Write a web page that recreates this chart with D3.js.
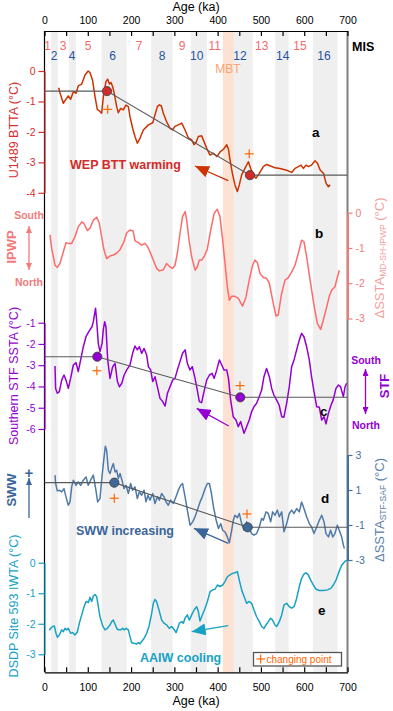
<!DOCTYPE html>
<html><head><meta charset="utf-8">
<script src="https://cdn.jsdelivr.net/npm/d3@7"></script>
<style>body{margin:0;background:#fff;} svg{display:block;font-family:"Liberation Sans",Arial,sans-serif;}</style>
</head><body><svg id="c" width="393" height="711"></svg>
<script>
// ---------- DATA ----------
const ageTicks = [0,100,200,300,400,500,600,700];
const glacialBands = [[15,31],[57,73],[132,190],[246,296],[338,375],[424,481],[533,564],[620,677]];
const mbtRange = [412,437];
const misOddLabels = ["1","3","5","7","9","11","13","15"];
const misOddAges = [7.4,42.7,100.5,218.3,317.6,393,501.7,590.2];
const misEvenLabels = ["2","4","6","8","10","12","14","16"];
const misEvenAges = [22,63.5,157.5,271.4,351.6,451.6,550.2,645.6];

const bttaSeries = [[32.7,-0.55],[36,-0.73],[43.5,-1.06],[51,-0.9],[55,-0.82],[60.4,-0.93],[66.6,-0.68],[72.8,-0.73],[78,-0.49],[86,-0.43],[93.6,-0.13],[101,0],[105,-0.05],[111,-0.3],[116.7,-0.84],[122,-1.26],[128,-1.33],[132,-1.39],[136,-0.84],[142,-0.35],[146,-0.27],[150,-0.43],[153.6,-0.38],[157.5,-0.52],[161,-0.73],[166.7,-1.17],[170.6,-1.37],[176,-1.23],[182,-1.28],[188,-1.12],[193.7,-1.17],[197.5,-1.5],[203.6,-1.88],[209,-2.15],[214.5,-2.37],[220.6,-2.21],[228.3,-1.94],[240,-1.77],[250,-1.7],[255.3,-1.44],[260.7,-1.17],[265.3,-1.11],[270,-1.15],[274.5,-1.39],[282,-1.66],[290,-1.88],[296,-1.93],[301.5,-1.82],[309,-1.77],[317,-1.71],[324.5,-1.93],[332.3,-2.2],[340,-2.26],[345.4,-2.42],[350,-2.35],[355.4,-2.15],[363,-2.13],[368.6,-2.32],[374.7,-2.54],[382.4,-2.76],[390,-2.7],[398,-2.81],[406,-2.65],[413.6,-2.57],[421,-2.42],[425,-2.57],[428.6,-2.92],[434,-3.36],[440,-3.74],[445.5,-3.96],[450,-3.74],[455.5,-3.41],[463,-3.2],[471,-2.98],[476.3,-3.2],[482.4,-3.41],[488.6,-3.52],[496.3,-3.36],[505.5,-3.14],[513,-3.07],[522.5,-3.12],[532.5,-3.18],[544,-3.2],[559.5,-3.26],[571,-3.33],[578.7,-3.2],[586.4,-3.14],[592.6,-3.09],[598,-3.2],[604,-3.09],[609.5,-3.14],[617,-3.09],[625,-2.95],[630.6,-3.03],[636.8,-3.25],[644.5,-3.36],[650.6,-3.69],[656,-3.8],[660,-3.74]];

const ipwpSeries = [[12.7,-0.63],[16.6,-1.01],[24.3,-1.49],[29.6,-1.55],[35.8,-1.44],[43.5,-1.11],[49.7,-0.85],[55,-0.87],[62.8,-0.87],[70.5,-0.68],[78,-0.4],[86,-0.26],[91,-0.3],[99,-0.51],[105,-0.44],[112.8,-0.21],[120.5,-0.13],[126.7,-0.3],[132,-0.68],[137.5,-1.06],[143.6,-1.3],[151,-1.23],[159,-1.2],[166.7,-1.15],[174,-1.06],[183.6,-0.82],[189.8,-0.57],[197.5,-0.49],[205,-0.52],[209,-0.8],[216.8,-0.85],[224.5,-0.92],[232,-0.87],[237.6,-0.95],[243.7,-1.11],[251.4,-1.34],[259,-1.58],[265.3,-1.65],[274.5,-1.62],[282,-1.44],[288.4,-1.52],[296,-1.58],[301.5,-1.49],[307,-1.15],[313,-0.59],[319,-0.11],[325,0.03],[328.5,-0.21],[334,-0.78],[340,-1.25],[348,-1.63],[353,-1.54],[357.7,-1.34],[363,-1.34],[368.5,-1.25],[376,-1.04],[384,-0.49],[392,-0.02],[399,0.1],[405.4,-0.11],[411.6,-0.78],[417,-1.44],[422.4,-2.1],[427,-2.48],[432,-2.37],[440,-2.37],[447.7,-2.43],[457.6,-2.65],[465.5,-2.39],[473,-1.91],[480.7,-1.49],[486,-1.34],[491.7,-1.41],[497.7,-1.72],[505.5,-1.84],[513,-1.86],[519.4,-2.0],[527,-2.48],[534.8,-2.93],[540,-2.9],[547.8,-2.29],[555.6,-1.91],[563.3,-1.84],[571,-1.68],[578.7,-1.49],[586.4,-1.15],[594,-0.78],[599.4,-0.82],[605.6,-1.25],[613,-1.86],[622.6,-2.62],[630.3,-3.14],[638,-3.31],[644,-3.05],[652,-2.67],[658,-2.37],[663.4,-2.2],[671,-2.1],[675,-1.91],[681,-1.63]];

const stfSeries = [[24.3,-3.04],[25.7,-4.09],[29.6,-4.32],[34.3,-4.24],[39.7,-3.7],[45,-3.46],[49.7,-3.7],[55,-4.09],[60.4,-3.62],[66.6,-2.99],[72.8,-2.88],[78,-3.3],[83.5,-2.75],[89.7,-2.13],[95.9,-1.66],[101,-1.47],[105,-1.34],[109.7,-1.19],[112.8,-0.95],[116,-0.55],[118,-0.32],[120.5,-0.9],[124.4,-2.0],[128.2,-2.36],[133,-1.97],[136,-1.3],[139,-0.95],[142,-1.19],[146,-2.75],[151.3,-3.62],[157.5,-3.07],[163,-2.91],[168.5,-3.77],[173,-4.01],[178.6,-3.85],[184,-3.46],[190,-3.22],[197.5,-2.99],[203.6,-2.44],[209,-2.1],[214.5,-2.28],[219,-2.13],[224.5,-2.44],[230,-2.21],[236,-2.52],[240,-3.07],[245.3,-3.22],[250,-3.77],[255.3,-3.54],[260.7,-4.01],[266.8,-4.56],[273,-4.71],[278.6,-4.92],[284,-4.32],[290,-4.01],[296,-3.7],[301.5,-3.62],[307,-3.22],[313,-2.83],[319,-2.44],[325,-2.28],[330,-2.91],[336,-3.22],[341.5,-3.07],[347.8,-3.62],[353,-4.17],[357.7,-4.71],[363,-4.76],[368.5,-4.24],[374.7,-3.7],[381,-3.46],[387,-3.38],[392,-3.62],[398,-3.22],[404,-2.75],[409.5,-2.99],[414.6,-3.22],[421,-3.22],[425,-3.62],[430,-4.63],[436,-5.42],[442.3,-5.58],[447.7,-5.89],[453,-5.65],[461,-6.2],[467,-5.89],[473,-5.58],[478.6,-5.18],[484,-4.95],[490,-4.79],[496,-4.48],[501.7,-4.17],[507,-3.54],[513,-3.15],[519.4,-3.54],[524.8,-4.09],[530,-4.4],[536,-4.63],[542,-4.87],[548,-5.42],[553,-5.45],[559.4,-4.79],[565.5,-4.01],[571,-3.07],[576.5,-2.75],[582.5,-2.28],[588.7,-1.81],[594,-1.5],[599.4,-1.66],[605.6,-2.13],[611.7,-2.75],[617,-3.54],[622.6,-4.24],[628.8,-4.95],[635,-4.98],[640.4,-5.58],[645.8,-5.42],[650.3,-5.76],[656,-5.26],[662,-4.87],[667,-4.63],[673.4,-4.09],[679,-3.93],[684,-4.01],[690.5,-4.48],[694.4,-4.01],[698,-3.85]];

const swwSeries = [[24.3,1.85],[25.7,1.37],[29.6,0.95],[34.3,0.99],[39.7,0.89],[45,1.08],[49.7,0.61],[55,0.13],[59,0.32],[62.8,1.18],[66.6,1.56],[72.8,1.27],[78,1.46],[83.5,1.27],[89.7,1.56],[95.9,1.75],[101,1.27],[106.6,1.56],[112.8,1.85],[118.2,1.08],[122.8,0.32],[128.2,0.51],[132,1.56],[136,2.51],[140.5,3.5],[143.6,3.26],[147.5,2.13],[151.3,1.94],[156,2.32],[159,2.51],[162.9,2.03],[166.7,2.13],[170.6,1.65],[174.5,1.94],[179,1.56],[183.6,1.08],[188.4,1.27],[193.7,0.8],[199,1.37],[203.6,0.99],[209,1.18],[214.5,0.51],[219,0.89],[224.5,0.7],[230,0.99],[234.5,0.32],[239,0.7],[243.7,0.42],[250,0.8],[255.3,0.23],[260.7,0.61],[265.3,0.42],[270.7,0.8],[276,0.61],[280.7,0.32],[286,0.13],[291.4,0.42],[297.6,0.23],[303.8,0.61],[309.2,0.99],[314.6,1.27],[319,1.37],[324.8,0.61],[330,-0.15],[336.3,-1.01],[342.4,-0.82],[347.8,-0.53],[353,-0.15],[359.4,0.32],[364.6,0.61],[371,1.08],[376.3,1.37],[381,1.37],[385,0.89],[390.4,0.04],[396.6,-0.73],[402,-1.2],[407.3,-0.92],[411.6,-1.3],[417,-1.39],[422.4,-1.68],[427,-2.02],[432.4,-1.3],[436.2,-0.73],[440,-0.44],[445.6,-0.58],[450,-0.34],[455.5,-0.92],[461,-1.3],[467,-0.82],[473,-1.2],[478.6,-1.49],[484,-1.58],[490,-1.49],[496.3,-1.11],[501.7,-0.63],[505.5,-0.73],[511.7,-0.25],[517,-0.34],[522.5,-0.82],[527,-0.25],[532.5,-0.44],[538,-0.15],[542.5,-0.53],[548,-0.25],[553.3,-1.39],[559.5,-0.92],[565.5,-0.34],[571,-0.15],[576.5,-0.34],[582.5,-0.06],[588.7,-0.25],[594,0.32],[599.4,-0.06],[605.6,-0.53],[611.7,-0.92],[617,-1.11],[622.6,-1.49],[628.8,-1.11],[635,-0.73],[640.4,-0.44],[645.8,-0.82],[650.3,-1.49],[656,-1.68],[661,-1.3],[666,-1.68],[671,-1.49],[676.5,-1.01],[681,-1.3],[686.5,-1.68],[690.5,-2.15],[692.8,-2.34]];

const iwtaSeries = [[11.2,-2.22],[14.2,-2.15],[18.9,-2.09],[22.7,-2.07],[26.6,-2.31],[29.6,-2.44],[34.3,-2.37],[39.7,-2.2],[43.5,-2.26],[47.4,-2.15],[51.2,-2.2],[55,-2.15],[60.4,-2.31],[65,-2.29],[70.5,-2.37],[75.9,-2.26],[80.5,-1.98],[86,-1.71],[91.3,-1.44],[96,-1.27],[101.3,-1.31],[105,-1.13],[109,-1.27],[112.8,-1.09],[116.7,-1.04],[120.5,-1.11],[124.4,-1.44],[128.2,-1.77],[134.4,-2.07],[139.8,-2.2],[145.2,-2.15],[151.3,-2.04],[155.2,-1.93],[159,-1.88],[162.9,-2.01],[166.7,-2.15],[170.6,-2.2],[176,-2.2],[180.7,-2.15],[183.7,-2.2],[188.4,-2.15],[193.7,-2.2],[197.5,-2.42],[201.4,-2.62],[206.8,-2.64],[213,-2.66],[216.8,-2.62],[220.7,-2.66],[224.5,-2.58],[230,-2.48],[236,-2.31],[241.4,-2.09],[247.6,-1.66],[251.4,-1.33],[255.3,-1.2],[259,-1.28],[264.5,-1.55],[270.7,-1.88],[276,-1.98],[282.2,-2.04],[288.4,-2.15],[293.8,-2.09],[299,-2.18],[304,-2.29],[307.6,-2.15],[311.5,-1.98],[317,-1.93],[320.8,-1.98],[324.6,-1.82],[330,-1.71],[334.6,-1.88],[340,-1.71],[345.4,-1.55],[351.6,-1.44],[355.5,-1.6],[359.3,-1.91],[364.6,-1.71],[371,-1.49],[376.3,-1.27],[382.5,-0.95],[388.6,-0.89],[394,-0.87],[399.4,-0.73],[405.5,-0.78],[411.7,-0.73],[417,-0.62],[422.4,-0.46],[428.6,-0.4],[434.7,-0.35],[440,-0.33],[445.6,-0.29],[450,-0.57],[455.5,-0.89],[461,-1.11],[467,-1.33],[473,-1.27],[478.6,-1.33],[484,-1.55],[490,-1.77],[496.3,-1.93],[501.7,-2.09],[507,-2.15],[511.7,-2.04],[517,-1.93],[522.5,-1.82],[527,-1.88],[532.5,-2.04],[536.3,-2.09],[542.5,-1.93],[548,-1.71],[553.3,-1.38],[559.5,-1.33],[565.5,-1.44],[571,-1.49],[576.5,-1.44],[582.5,-1.17],[588.7,-0.78],[594,-0.51],[599.4,-0.37],[604,-0.33],[609.5,-0.4],[615,-0.57],[621,-0.73],[627.3,-0.87],[635,-0.91],[644.3,-0.91],[653.5,-0.89],[661.3,-0.84],[667.3,-0.73],[673.5,-0.57],[679,-0.35],[686.6,-0.08],[694.4,0.05],[700,0.08]];

// change points [age, value] and fitted segments
const changeA = [[144.4,-0.66],[474.7,-3.42]];
const changeC = [[122,-2.6],[452.3,-4.51]];
const changeD = [[161.3,1.42],[469.4,-1.13]];
const plusA = [[146,-1.26],[473,-2.72]];
const plusC = [[121,-3.26],[451.6,-3.96]];
const plusD = [[161.2,0.53],[467.8,-0.37]];
// trend arrows [fromAge, fromVal, toAge, toVal]
const arrowA = [424.6,-3.6,347.7,-3.12];
const arrowC = [425.5,-5.86,351.6,-5.03];
const arrowD = [424.6,-2.05,345.3,-1.19];
const arrowE = [424.6,-2.06,340,-2.26];

const ticksA = [0,-1,-2,-3,-4];
const ticksB = [0,-1,-2,-3];
const ticksC = [-1,-2,-3,-4,-5,-6];
const ticksD = [3,1,-1,-3];
const ticksE = [0,-1,-2,-3];

// ---------- DRAW ----------
(function(){
const svg = d3.select("#c");
const FONT = '"Liberation Sans",Arial,sans-serif';
const T0 = 31, B0 = 672.3, L0 = 44.5, R0 = 347.5;
const x = d3.scaleLinear().domain([0,700]).range([L0,R0]);
const yA = d3.scaleLinear().domain([0,-4]).range([71,192.8]);
const yB = d3.scaleLinear().domain([0,-3]).range([212.7,318.5]);
const yC = d3.scaleLinear().domain([-1,-6]).range([322.7,429]);
const yD = d3.scaleLinear().domain([3,-3]).range([455,560]);
const yE = d3.scaleLinear().domain([0,-3]).range([562.7,654.3]);

const colA = "#cc3300", colAaxis = "#d83030";
const colB = "#ff6b6b", colBaxis = "#f07c7c", colBtitle = "#f5a0a0";
const colC = "#9400d3";
const colD = "#4f7aa8", colDaxis = "#45709c", colDtext = "#3a6699";
const colE = "#17a2c4";
const colPlus = "#ff6600";

svg.append("g").selectAll("rect").data(glacialBands).join("rect")
  .attr("x", d => x(d[0])).attr("width", d => x(d[1]) - x(d[0]))
  .attr("y", T0).attr("height", B0 - T0).attr("fill", "#efefef");
svg.append("rect").attr("x", x(mbtRange[0])).attr("width", x(mbtRange[1]) - x(mbtRange[0]))
  .attr("y", T0).attr("height", B0 - T0).attr("fill", "#fde2d3");

svg.append("g").selectAll("text").data(misOddLabels).join("text")
  .attr("x", (d,i) => x(misOddAges[i])).attr("y", 50).attr("text-anchor","middle")
  .attr("font-size", 12).attr("fill", "#f26b6b").text(d => d);
svg.append("g").selectAll("text").data(misEvenLabels).join("text")
  .attr("x", (d,i) => x(misEvenAges[i])).attr("y", 59.5).attr("text-anchor","middle")
  .attr("font-size", 12).attr("fill", "#2452a3").text(d => d);
svg.append("text").attr("x", 352).attr("y", 50.5).attr("font-size", 12.5).attr("font-weight","bold").text("MIS");
svg.append("text").attr("x", x(423.5)).attr("y", 72.5).attr("text-anchor","middle").attr("font-size", 12).attr("fill","#f9a474").text("MBT");

svg.append("line").attr("x1",L0).attr("x2",L0).attr("y1",T0).attr("y2",B0).attr("stroke","#000").attr("stroke-width",1.2);
svg.append("line").attr("x1",R0).attr("x2",R0).attr("y1",T0).attr("y2",B0).attr("stroke","#808080").attr("stroke-width",2);

function styleAxis(g, color, fs) {
  g.attr("font-family", FONT);
  g.selectAll("path,line").attr("stroke", color).attr("stroke-width", 1.2);
  g.selectAll("text").attr("fill", color).attr("font-size", fs || 10.5);
}
const topAxis = d3.axisTop(x).tickValues(d3.range(0,701,50)).tickFormat(d => d % 100 === 0 ? d : "")
  .tickSizeInner(-5).tickSizeOuter(0).tickPadding(7);
svg.append("g").attr("transform", `translate(0,${T0})`).call(topAxis).call(g => styleAxis(g, "#000", 10.5));
const botAxis = d3.axisBottom(x).tickValues(d3.range(0,701,50)).tickFormat(d => d % 100 === 0 ? d : "")
  .tickSizeInner(-5).tickSizeOuter(0).tickPadding(11);
svg.append("g").attr("transform", `translate(0,${B0})`).call(botAxis).call(g => styleAxis(g, "#000", 10.5));
svg.append("text").attr("x", (L0+R0)/2).attr("y", 11).attr("text-anchor","middle").attr("font-size",12.5).text("Age (ka)");
svg.append("text").attr("x", (L0+R0)/2).attr("y", 705).attr("text-anchor","middle").attr("font-size",12.5).text("Age (ka)");

function leftAxis(scale, ticks, color) {
  svg.append("g").attr("transform", `translate(${L0},0)`)
    .call(d3.axisLeft(scale).tickValues(ticks).tickFormat(d => String(d)).tickSize(6).tickSizeOuter(0).tickPadding(3))
    .call(g => styleAxis(g, color));
}
function rightAxis(scale, ticks, color) {
  svg.append("g").attr("transform", `translate(${R0},0)`)
    .call(d3.axisRight(scale).tickValues(ticks).tickFormat(d => String(d)).tickSize(5).tickSizeOuter(0).tickPadding(3))
    .call(g => { styleAxis(g, color); g.select("path").attr("stroke-width", 2); });
}
leftAxis(yA, ticksA, colAaxis);
rightAxis(yB, ticksB, colBaxis);
leftAxis(yC, ticksC, colC);
rightAxis(yD, ticksD, colDaxis);
leftAxis(yE, ticksE, colE);

function vText(cx, cy, txt, color, fs, weight) {
  return svg.append("text").attr("transform", `translate(${cx},${cy}) rotate(-90)`)
    .attr("text-anchor","middle").attr("dominant-baseline","central")
    .attr("font-size", fs).attr("font-weight", weight || "normal").attr("fill", color).text(txt);
}
vText(14, 130, "U1489 BTTA (°C)", colAaxis, 12.5);
vText(11, 247, "IPWP", colBaxis, 13, "bold");
vText(14, 376, "Southern STF SSTA (°C)", colC, 12.5);
vText(11, 490, "SWW", colDtext, 13, "bold");
vText(14, 606, "DSDP Site 593 IWTA (°C)", colE, 12.5);
vText(384, 386, "STF", colC, 13, "bold");

function subTitle(cx, cy, sub, color) {
  const t = svg.append("text").attr("transform", `translate(${cx},${cy}) rotate(-90)`)
    .attr("text-anchor","middle").attr("dominant-baseline","central").attr("font-size", 13).attr("fill", color);
  t.append("tspan").text("ΔSSTA");
  t.append("tspan").attr("font-size", 8.5).attr("dy", 3.5).text(sub);
  t.append("tspan").attr("dy", -3.5).text(" (°C)");
}
subTitle(379, 258, "MD-SH-IPWP", colBtitle);
subTitle(379, 510, "STF-SAF", "#5a80aa");

const defs = svg.append("defs");
function mk(id, color, w, h) {
  defs.append("marker").attr("id", id).attr("viewBox", `0 0 ${w} ${h}`).attr("refX", w).attr("refY", h/2)
    .attr("markerWidth", w).attr("markerHeight", h).attr("markerUnits","userSpaceOnUse").attr("orient","auto-start-reverse")
    .append("path").attr("d", `M0,0L${w},${h/2}L0,${h}Z`).attr("fill", color);
}
mk("hb", colBaxis, 7, 6); mk("hc", colC, 7, 6); mk("hd", colDtext, 7, 6);
mk("ta", colA, 14, 12); mk("tc", colC, 14, 12); mk("td", colDtext, 14, 12); mk("te", colE, 14, 12);

svg.append("line").attr("x1",29).attr("x2",29).attr("y1",226).attr("y2",270).attr("stroke",colBaxis).attr("stroke-width",1.3)
  .attr("marker-start","url(#hb)").attr("marker-end","url(#hb)");
svg.append("text").attr("x",29).attr("y",219).attr("text-anchor","middle").attr("font-size",10.5).attr("font-weight","bold").attr("fill",colBaxis).text("South");
svg.append("text").attr("x",29).attr("y",286).attr("text-anchor","middle").attr("font-size",10.5).attr("font-weight","bold").attr("fill",colBaxis).text("North");

svg.append("line").attr("x1",365.5).attr("x2",365.5).attr("y1",369).attr("y2",414).attr("stroke",colC).attr("stroke-width",1.3)
  .attr("marker-start","url(#hc)").attr("marker-end","url(#hc)");
svg.append("text").attr("x",366).attr("y",364).attr("text-anchor","middle").attr("font-size",10.5).attr("font-weight","bold").attr("fill",colC).text("South");
svg.append("text").attr("x",366).attr("y",429).attr("text-anchor","middle").attr("font-size",10.5).attr("font-weight","bold").attr("fill",colC).text("North");

svg.append("line").attr("x1",29).attr("x2",29).attr("y1",518).attr("y2",478).attr("stroke",colDtext).attr("stroke-width",1.3)
  .attr("marker-end","url(#hd)");
svg.append("text").attr("x",29).attr("y",477.5).attr("text-anchor","middle").attr("font-size",15).attr("font-weight","bold").attr("fill",colDtext).text("+");

function drawLine(data, y, color) {
  svg.append("path").datum(data).attr("fill","none").attr("stroke",color).attr("stroke-width",1.5)
    .attr("stroke-linejoin","round").attr("d", d3.line().x(d => x(d[0])).y(d => y(d[1])));
}
drawLine(bttaSeries, yA, colA);
drawLine(ipwpSeries, yB, colB);
drawLine(stfSeries, yC, colC);
drawLine(swwSeries, yD, colD);
drawLine(iwtaSeries, yE, colE);

function fit(cp, y, fill, plus) {
  const pts = [[0, cp[0][1]], cp[0], cp[1], [700, cp[1][1]]];
  svg.append("path").datum(pts).attr("fill","none").attr("stroke","#5a5a5a").attr("stroke-width",1.1)
    .attr("d", d3.line().x(d => x(d[0])).y(d => y(d[1])));
  svg.append("g").selectAll("circle").data(cp).join("circle")
    .attr("cx", d => x(d[0])).attr("cy", d => y(d[1])).attr("r", 4.6)
    .attr("fill", fill).attr("stroke", "#444").attr("stroke-width", 0.9);
  const g = svg.append("g").attr("stroke", colPlus).attr("stroke-width", 1.2);
  plus.forEach(p => {
    const px = x(p[0]), py = y(p[1]);
    g.append("line").attr("x1", px-4.5).attr("x2", px+4.5).attr("y1", py).attr("y2", py);
    g.append("line").attr("x1", px).attr("x2", px).attr("y1", py-4.5).attr("y2", py+4.5);
  });
}
fit(changeA, yA, "#d42a2a", plusA);
fit(changeC, yC, "#9400d3", plusC);
fit(changeD, yD, "#3d6898", plusD);

function trend(a, y, color, id) {
  svg.append("line").attr("x1", x(a[0])).attr("y1", y(a[1])).attr("x2", x(a[2])).attr("y2", y(a[3]))
    .attr("stroke", color).attr("stroke-width", 1.3).attr("marker-end", `url(#${id})`);
}
trend(arrowA, yA, colA, "ta");
trend(arrowC, yC, colC, "tc");
trend(arrowD, yD, colDtext, "td");
trend(arrowE, yE, colE, "te");

function note(tx, ty, txt, color, fs, weight) {
  svg.append("text").attr("x", tx).attr("y", ty).attr("font-size", fs).attr("font-weight", weight || "bold").attr("fill", color).text(txt);
}
note(70, 168.5, "WEP BTT warming", "#d42a2a", 12.5);
note(76, 534.5, "SWW increasing", colDtext, 12.5);
note(140, 662, "AAIW cooling", colE, 12.5);
note(312, 137, "a", "#000", 13.5);
note(315, 238, "b", "#000", 13.5);
note(320, 416, "c", "#000", 13.5);
note(321, 503, "d", "#000", 13.5);
note(318, 615, "e", "#000", 13.5);

svg.append("rect").attr("x", 253.5).attr("y", 652.5).attr("width", 88).attr("height", 13.5)
  .attr("fill","#fff").attr("stroke","#555").attr("stroke-width",1.3);
const lg = svg.append("g").attr("stroke", colPlus).attr("stroke-width", 1.2);
lg.append("line").attr("x1",256.5).attr("x2",265).attr("y1",659).attr("y2",659);
lg.append("line").attr("x1",260.7).attr("x2",260.7).attr("y1",654.5).attr("y2",663.5);
svg.append("text").attr("x", 266.5).attr("y", 663).attr("font-size", 10).attr("fill", colPlus).text("changing point");
})();
</script></body></html>
